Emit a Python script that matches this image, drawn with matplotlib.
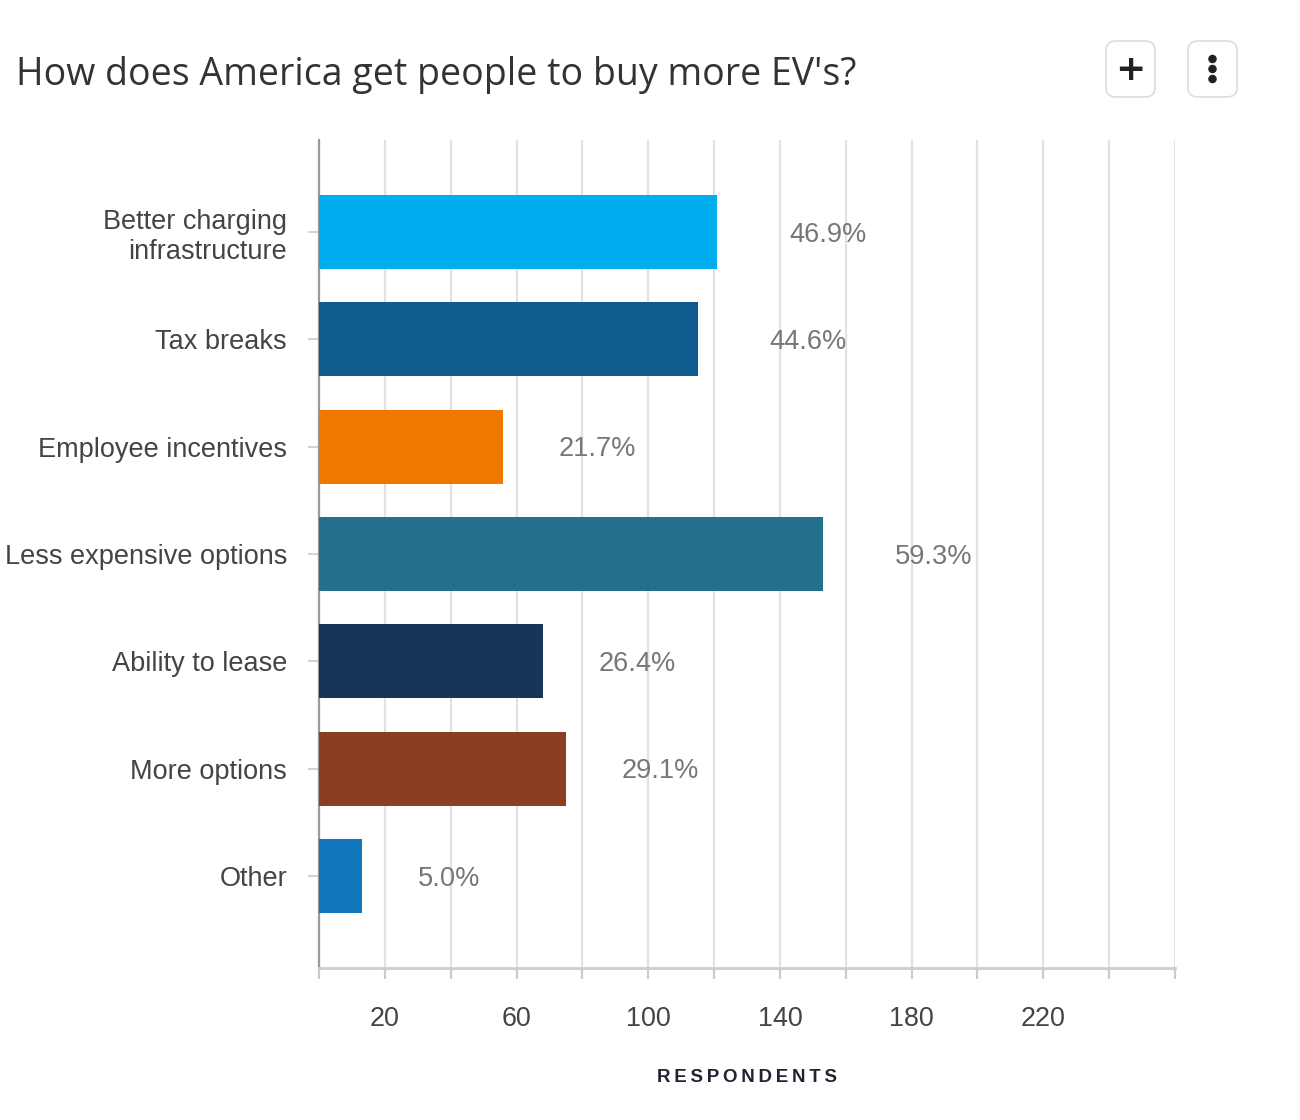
import matplotlib
matplotlib.use("Agg")
import matplotlib.pyplot as plt
from matplotlib.patches import FancyBboxPatch, Ellipse
from matplotlib.ticker import MultipleLocator, FixedLocator

# ---- data ----
categories = ["Better charging\ninfrastructure", "Tax breaks", "Employee incentives",
              "Less expensive options", "Ability to lease", "More options", "Other"]
respondents = [121, 115, 56, 153, 68, 75, 13]
percent_labels = ["46.9%", "44.6%", "21.7%", "59.3%", "26.4%", "29.1%", "5.0%"]
bar_colors = ["#00AEEF", "#0F5B8E", "#EF7800", "#226F8E", "#163657", "#8A3E24", "#1276BD"]
label_offsets_pt = [52, 52, 40, 52, 40, 40, 40]
major_ticks = [20, 60, 100, 140, 180, 220]
title = "How does America get people to buy more EV's?"
x_title = "RESPONDENTS"

W, H = 1300, 1120
fig = plt.figure(figsize=(W / 100, H / 100), dpi=100)
fig.patch.set_facecolor("white")

ax = fig.add_axes([319 / W, 1 - 968 / H, (1175 - 319) / W, (968 - 140) / H])

y = list(range(len(categories)))
ax.barh(y, respondents, height=0.69, color=bar_colors, zorder=3)

for yi, v, lab, off in zip(y, respondents, percent_labels, label_offsets_pt):
    ax.annotate(lab, xy=(v, yi), xytext=(off, -2), textcoords="offset points",
                ha="left", va="center", fontsize=19.6, color="#777777",
                family=["Liberation Sans", "DejaVu Sans"], zorder=4)

ax.set_xlim(0, 260)
ax.set_ylim(len(categories) - 1 + 0.857, -0.857)

ax.xaxis.set_major_locator(FixedLocator(major_ticks))
ax.xaxis.set_minor_locator(MultipleLocator(20))
ax.set_xticklabels([str(t) for t in major_ticks])
ax.set_yticks(y)
ax.set_yticklabels(categories, linespacing=1.2)

ax.grid(axis="x", which="both", color="#e2e2e2", linewidth=1.6, zorder=0)
ax.set_axisbelow(True)

for s in ["top", "right"]:
    ax.spines[s].set_visible(False)
ax.spines["left"].set_color("#9a9a9a")
ax.spines["left"].set_linewidth(1.6)
ax.spines["bottom"].set_color("#cccccc")
ax.spines["bottom"].set_linewidth(2)

ax.tick_params(axis="x", which="both", length=8, width=1.6, color="#cccccc",
               pad=19, labelsize=19.4, labelcolor="#444444")
ax.tick_params(axis="y", length=8, width=1.2, color="#cccccc", pad=15,
               labelsize=19.5, labelcolor="#444444")
for t in ax.get_xticklabels() + ax.get_yticklabels():
    t.set_family(["Liberation Sans", "DejaVu Sans"])

fig.text(747 / W, 1 - 1077 / H, "\u2009".join(x_title), ha="center", va="center",
         fontsize=13.5, fontweight="bold", color="#222233",
         family=["Liberation Sans", "DejaVu Sans"])

fig.text(16 / W, 1 - 75 / H, title, ha="left", va="center", fontsize=27,
         color="#333333", family=["Open Sans", "DejaVu Sans"])

# buttons
for x0 in [1106, 1188]:
    box = FancyBboxPatch((x0 / W, 1 - 97 / H), 49 / W, 56 / H,
                         boxstyle="round,pad=0,rounding_size=0.008",
                         transform=fig.transFigure, facecolor="white",
                         edgecolor="#dddddd", linewidth=1.2)
    fig.patches.append(box)
fig.text((1106 + 24.5) / W, 1 - 70 / H, "+", ha="center", va="center",
         fontsize=26, fontweight="bold", color="#222222", family=["DejaVu Sans"])
for dy in [-10, 0, 10]:
    dot = Ellipse(((1188 + 24.5) / W, 1 - (69 + dy) / H), 8.5 / W, 8.5 / H,
                  transform=fig.transFigure, facecolor="#222222", edgecolor="none")
    fig.patches.append(dot)

fig.savefig("out.png", dpi=100, facecolor="white")
